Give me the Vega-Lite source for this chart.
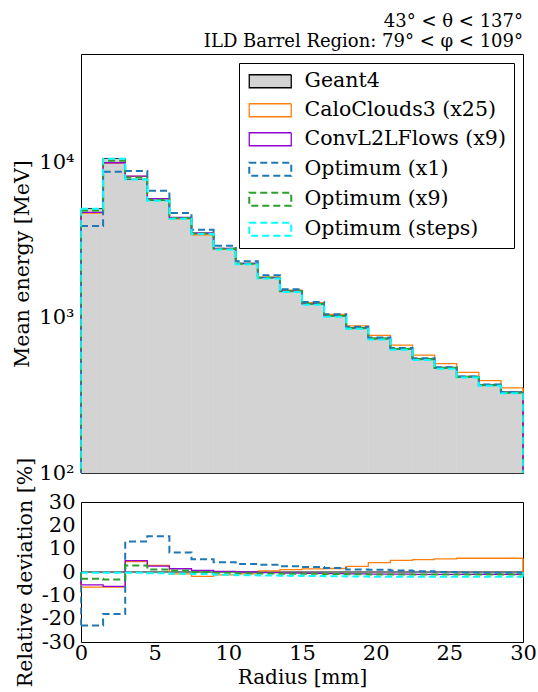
{
  "$schema": "https://vega.github.io/schema/vega-lite/v6.json",
  "padding": {"left": 12, "top": 12, "right": 5, "bottom": 0},
  "config": {
    "font": "DejaVu Serif",
    "view": {"stroke": "black", "strokeWidth": 1},
    "axis": {
      "domain": false, "grid": false, "tickColor": "black", "tickSize": 0, "tickWidth": 1,
      "labelFont": "DejaVu Serif", "labelFontSize": 21, "labelColor": "black", "labelFlush": false, "labelOverlap": false,
      "titleFont": "DejaVu Serif", "titleFontSize": 20.5, "titleFontWeight": "normal", "titleColor": "black"
    },
    "legend": {
      "title": null, "orient": "top-right", "offset": 9,
      "strokeColor": "black", "fillColor": "white", "padding": 8, "cornerRadius": 0,
      "symbolType": "M-3,-0.93H3V0.93H-3Z", "symbolSize": 196, "symbolOffset": 13, "labelOffset": 24,
      "labelFont": "DejaVu Serif", "labelFontSize": 20.5, "labelColor": "black", "labelLimit": 0,
      "rowPadding": 8, "symbolStrokeWidth": 1.5
    }
  },
  "datasets": {
    "h": [
      {"s":"Geant4","r0":0,"r1":1.5,"e":5050,"d":0},
      {"s":"Geant4","r0":1.5,"r1":3,"e":10620,"d":0},
      {"s":"Geant4","r0":3,"r1":4.5,"e":7800,"d":0},
      {"s":"Geant4","r0":4.5,"r1":6,"e":5700,"d":0},
      {"s":"Geant4","r0":6,"r1":7.5,"e":4370,"d":0},
      {"s":"Geant4","r0":7.5,"r1":9,"e":3490,"d":0},
      {"s":"Geant4","r0":9,"r1":10.5,"e":2790,"d":0},
      {"s":"Geant4","r0":10.5,"r1":12,"e":2240,"d":0},
      {"s":"Geant4","r0":12,"r1":13.5,"e":1820,"d":0},
      {"s":"Geant4","r0":13.5,"r1":15,"e":1490,"d":0},
      {"s":"Geant4","r0":15,"r1":16.5,"e":1235,"d":0},
      {"s":"Geant4","r0":16.5,"r1":18,"e":1035,"d":0},
      {"s":"Geant4","r0":18,"r1":19.5,"e":865,"d":0},
      {"s":"Geant4","r0":19.5,"r1":21,"e":740,"d":0},
      {"s":"Geant4","r0":21,"r1":22.5,"e":635,"d":0},
      {"s":"Geant4","r0":22.5,"r1":24,"e":546,"d":0},
      {"s":"Geant4","r0":24,"r1":25.5,"e":480,"d":0},
      {"s":"Geant4","r0":25.5,"r1":27,"e":420,"d":0},
      {"s":"Geant4","r0":27,"r1":28.5,"e":372,"d":0},
      {"s":"Geant4","r0":28.5,"r1":30,"e":333,"d":0},

      {"s":"CaloClouds3 (x25)","r0":0,"r1":1.5,"e":4722,"d":-6.5},
      {"s":"CaloClouds3 (x25)","r0":1.5,"r1":3,"e":9930,"d":-6.5},
      {"s":"CaloClouds3 (x25)","r0":3,"r1":4.5,"e":8151,"d":4.5},
      {"s":"CaloClouds3 (x25)","r0":4.5,"r1":6,"e":5860,"d":2.8},
      {"s":"CaloClouds3 (x25)","r0":6,"r1":7.5,"e":4335,"d":-0.8},
      {"s":"CaloClouds3 (x25)","r0":7.5,"r1":9,"e":3424,"d":-1.9},
      {"s":"CaloClouds3 (x25)","r0":9,"r1":10.5,"e":2757,"d":-1.2},
      {"s":"CaloClouds3 (x25)","r0":10.5,"r1":12,"e":2222,"d":-0.8},
      {"s":"CaloClouds3 (x25)","r0":12,"r1":13.5,"e":1829,"d":0.5},
      {"s":"CaloClouds3 (x25)","r0":13.5,"r1":15,"e":1505,"d":1.0},
      {"s":"CaloClouds3 (x25)","r0":15,"r1":16.5,"e":1251,"d":1.3},
      {"s":"CaloClouds3 (x25)","r0":16.5,"r1":18,"e":1051,"d":1.5},
      {"s":"CaloClouds3 (x25)","r0":18,"r1":19.5,"e":886,"d":2.4},
      {"s":"CaloClouds3 (x25)","r0":19.5,"r1":21,"e":770,"d":4.0},
      {"s":"CaloClouds3 (x25)","r0":21,"r1":22.5,"e":667,"d":5.0},
      {"s":"CaloClouds3 (x25)","r0":22.5,"r1":24,"e":575,"d":5.3},
      {"s":"CaloClouds3 (x25)","r0":24,"r1":25.5,"e":507,"d":5.6},
      {"s":"CaloClouds3 (x25)","r0":25.5,"r1":27,"e":445,"d":5.9},
      {"s":"CaloClouds3 (x25)","r0":27,"r1":28.5,"e":394,"d":5.9},
      {"s":"CaloClouds3 (x25)","r0":28.5,"r1":30,"e":353,"d":5.9},

      {"s":"ConvL2LFlows (x9)","r0":0,"r1":1.5,"e":4772,"d":-5.5},
      {"s":"ConvL2LFlows (x9)","r0":1.5,"r1":3,"e":9962,"d":-6.2},
      {"s":"ConvL2LFlows (x9)","r0":3,"r1":4.5,"e":8182,"d":4.9},
      {"s":"ConvL2LFlows (x9)","r0":4.5,"r1":6,"e":5843,"d":2.5},
      {"s":"ConvL2LFlows (x9)","r0":6,"r1":7.5,"e":4431,"d":1.4},
      {"s":"ConvL2LFlows (x9)","r0":7.5,"r1":9,"e":3514,"d":0.7},
      {"s":"ConvL2LFlows (x9)","r0":9,"r1":10.5,"e":2798,"d":0.3},
      {"s":"ConvL2LFlows (x9)","r0":10.5,"r1":12,"e":2240,"d":0.0},
      {"s":"ConvL2LFlows (x9)","r0":12,"r1":13.5,"e":1815,"d":-0.3},
      {"s":"ConvL2LFlows (x9)","r0":13.5,"r1":15,"e":1483,"d":-0.5},
      {"s":"ConvL2LFlows (x9)","r0":15,"r1":16.5,"e":1228,"d":-0.6},
      {"s":"ConvL2LFlows (x9)","r0":16.5,"r1":18,"e":1028,"d":-0.7},
      {"s":"ConvL2LFlows (x9)","r0":18,"r1":19.5,"e":858,"d":-0.8},
      {"s":"ConvL2LFlows (x9)","r0":19.5,"r1":21,"e":733,"d":-0.9},
      {"s":"ConvL2LFlows (x9)","r0":21,"r1":22.5,"e":629,"d":-0.9},
      {"s":"ConvL2LFlows (x9)","r0":22.5,"r1":24,"e":541,"d":-1.0},
      {"s":"ConvL2LFlows (x9)","r0":24,"r1":25.5,"e":475,"d":-1.0},
      {"s":"ConvL2LFlows (x9)","r0":25.5,"r1":27,"e":416,"d":-1.0},
      {"s":"ConvL2LFlows (x9)","r0":27,"r1":28.5,"e":368,"d":-1.0},
      {"s":"ConvL2LFlows (x9)","r0":28.5,"r1":30,"e":330,"d":-1.0},

      {"s":"Optimum (x1)","r0":0,"r1":1.5,"e":3894,"d":-22.9},
      {"s":"Optimum (x1)","r0":1.5,"r1":3,"e":8708,"d":-18.0},
      {"s":"Optimum (x1)","r0":3,"r1":4.5,"e":8822,"d":13.1},
      {"s":"Optimum (x1)","r0":4.5,"r1":6,"e":6572,"d":15.3},
      {"s":"Optimum (x1)","r0":6,"r1":7.5,"e":4737,"d":8.4},
      {"s":"Optimum (x1)","r0":7.5,"r1":9,"e":3682,"d":5.5},
      {"s":"Optimum (x1)","r0":9,"r1":10.5,"e":2907,"d":4.2},
      {"s":"Optimum (x1)","r0":10.5,"r1":12,"e":2316,"d":3.4},
      {"s":"Optimum (x1)","r0":12,"r1":13.5,"e":1876,"d":3.1},
      {"s":"Optimum (x1)","r0":13.5,"r1":15,"e":1527,"d":2.5},
      {"s":"Optimum (x1)","r0":15,"r1":16.5,"e":1261,"d":2.1},
      {"s":"Optimum (x1)","r0":16.5,"r1":18,"e":1053,"d":1.7},
      {"s":"Optimum (x1)","r0":18,"r1":19.5,"e":875,"d":1.1},
      {"s":"Optimum (x1)","r0":19.5,"r1":21,"e":747,"d":1.0},
      {"s":"Optimum (x1)","r0":21,"r1":22.5,"e":639,"d":0.6},
      {"s":"Optimum (x1)","r0":22.5,"r1":24,"e":548,"d":0.3},
      {"s":"Optimum (x1)","r0":24,"r1":25.5,"e":480,"d":0.0},
      {"s":"Optimum (x1)","r0":25.5,"r1":27,"e":419,"d":-0.2},
      {"s":"Optimum (x1)","r0":27,"r1":28.5,"e":371,"d":-0.3},
      {"s":"Optimum (x1)","r0":28.5,"r1":30,"e":332,"d":-0.3},

      {"s":"Optimum (x9)","r0":0,"r1":1.5,"e":4904,"d":-2.9},
      {"s":"Optimum (x9)","r0":1.5,"r1":3,"e":10280,"d":-3.2},
      {"s":"Optimum (x9)","r0":3,"r1":4.5,"e":8018,"d":2.8},
      {"s":"Optimum (x9)","r0":4.5,"r1":6,"e":5763,"d":1.1},
      {"s":"Optimum (x9)","r0":6,"r1":7.5,"e":4396,"d":0.6},
      {"s":"Optimum (x9)","r0":7.5,"r1":9,"e":3490,"d":0.0},
      {"s":"Optimum (x9)","r0":9,"r1":10.5,"e":2782,"d":-0.3},
      {"s":"Optimum (x9)","r0":10.5,"r1":12,"e":2229,"d":-0.5},
      {"s":"Optimum (x9)","r0":12,"r1":13.5,"e":1809,"d":-0.6},
      {"s":"Optimum (x9)","r0":13.5,"r1":15,"e":1480,"d":-0.7},
      {"s":"Optimum (x9)","r0":15,"r1":16.5,"e":1225,"d":-0.8},
      {"s":"Optimum (x9)","r0":16.5,"r1":18,"e":1026,"d":-0.9},
      {"s":"Optimum (x9)","r0":18,"r1":19.5,"e":856,"d":-1.0},
      {"s":"Optimum (x9)","r0":19.5,"r1":21,"e":732,"d":-1.1},
      {"s":"Optimum (x9)","r0":21,"r1":22.5,"e":628,"d":-1.1},
      {"s":"Optimum (x9)","r0":22.5,"r1":24,"e":540,"d":-1.1},
      {"s":"Optimum (x9)","r0":24,"r1":25.5,"e":475,"d":-1.1},
      {"s":"Optimum (x9)","r0":25.5,"r1":27,"e":415,"d":-1.1},
      {"s":"Optimum (x9)","r0":27,"r1":28.5,"e":368,"d":-1.1},
      {"s":"Optimum (x9)","r0":28.5,"r1":30,"e":329,"d":-1.1},

      {"s":"Optimum (steps)","r0":0,"r1":1.5,"e":5035,"d":-0.3},
      {"s":"Optimum (steps)","r0":1.5,"r1":3,"e":10588,"d":-0.3},
      {"s":"Optimum (steps)","r0":3,"r1":4.5,"e":7777,"d":-0.3},
      {"s":"Optimum (steps)","r0":4.5,"r1":6,"e":5672,"d":-0.5},
      {"s":"Optimum (steps)","r0":6,"r1":7.5,"e":4339,"d":-0.7},
      {"s":"Optimum (steps)","r0":7.5,"r1":9,"e":3459,"d":-0.9},
      {"s":"Optimum (steps)","r0":9,"r1":10.5,"e":2757,"d":-1.2},
      {"s":"Optimum (steps)","r0":10.5,"r1":12,"e":2209,"d":-1.4},
      {"s":"Optimum (steps)","r0":12,"r1":13.5,"e":1793,"d":-1.5},
      {"s":"Optimum (steps)","r0":13.5,"r1":15,"e":1466,"d":-1.6},
      {"s":"Optimum (steps)","r0":15,"r1":16.5,"e":1214,"d":-1.7},
      {"s":"Optimum (steps)","r0":16.5,"r1":18,"e":1016,"d":-1.8},
      {"s":"Optimum (steps)","r0":18,"r1":19.5,"e":849,"d":-1.9},
      {"s":"Optimum (steps)","r0":19.5,"r1":21,"e":725,"d":-2.0},
      {"s":"Optimum (steps)","r0":21,"r1":22.5,"e":622,"d":-2.0},
      {"s":"Optimum (steps)","r0":22.5,"r1":24,"e":535,"d":-2.0},
      {"s":"Optimum (steps)","r0":24,"r1":25.5,"e":470,"d":-2.0},
      {"s":"Optimum (steps)","r0":25.5,"r1":27,"e":412,"d":-2.0},
      {"s":"Optimum (steps)","r0":27,"r1":28.5,"e":365,"d":-2.0},
      {"s":"Optimum (steps)","r0":28.5,"r1":30,"e":326,"d":-2.0}
    ]
  },
  "bounds": "flush",
  "spacing": 29,
  "resolve": {"legend": {"color": "independent", "strokeDash": "independent"}},
  "vconcat": [
    {
      "width": 442,
      "height": 419,
      "title": {
        "text": ["43° < θ < 137°", "ILD Barrel Region: 79° < φ < 109°"],
        "anchor": "end", "frame": "group", "offset": -8,
        "font": "DejaVu Serif", "fontSize": 18, "lineHeight": 20, "fontWeight": "normal", "color": "black"
      },
      "data": {"name": "h"},
      "layer": [
        {
          "transform": [{"filter": "datum.s === 'Geant4'"}],
          "mark": {"type": "rect", "fill": "#d3d3d3", "stroke": "#d3d3d3", "strokeWidth": 0.5},
          "encoding": {
            "x": {
              "field": "r0", "type": "quantitative",
              "scale": {"domain": [0, 30], "nice": false, "zero": false},
              "axis": {"orient": "bottom", "values": [5, 10, 15, 20, 25], "labels": false, "title": null,
                       "encode": {"ticks": {"update": {"y2": {"value": -7}}}}}
            },
            "x2": {"field": "r1"},
            "y": {
              "field": "e", "type": "quantitative",
              "scale": {"type": "log", "domain": [100, 50000], "nice": false},
              "axis": {
                "orient": "left", "title": "Mean energy [MeV]", "titlePadding": 6, "labelPadding": 7,
                "values": [100,200,300,400,500,600,700,800,900,1000,2000,3000,4000,5000,6000,7000,8000,9000,10000,20000,30000,40000,50000],
                "labelExpr": "datum.value === 100 ? '10²' : datum.value === 1000 ? '10³' : datum.value === 10000 ? '10⁴' : ''",
                "encode": {"ticks": {"update": {"x2": {"signal": "indexof([100, 1000, 10000], datum.value) >= 0 ? 7 : 3.5"}}}}
              }
            },
            "y2": {"datum": 100}
          }
        },
        {
          "transform": [{"filter": "datum.s === 'Geant4'"}, {"fold": ["r0", "r1"], "as": ["edge", "r"]}],
          "mark": {"type": "line", "strokeWidth": 0.8},
          "encoding": {
            "x": {
              "field": "r", "type": "quantitative",
              "axis": {"orient": "top", "values": [5, 10, 15, 20, 25], "labels": false, "title": null,
                       "encode": {"ticks": {"update": {"y2": {"value": 7}}}}}
            },
            "y": {
              "field": "e", "type": "quantitative",
              "axis": {
                "orient": "right", "labels": false, "title": null,
                "values": [100,200,300,400,500,600,700,800,900,1000,2000,3000,4000,5000,6000,7000,8000,9000,10000,20000,30000,40000,50000],
                "encode": {"ticks": {"update": {"x2": {"signal": "indexof([100, 1000, 10000], datum.value) >= 0 ? -7 : -3.5"}}}}
              }
            },
            "color": {
              "field": "s", "type": "nominal",
              "scale": {
                "domain": ["Geant4", "CaloClouds3 (x25)", "ConvL2LFlows (x9)", "Optimum (x1)", "Optimum (x9)", "Optimum (steps)"],
                "range": ["#000000", "#ff7f0e", "#9400d3", "#1f77b4", "#2ca02c", "#00ffff"]
              },
              "legend": {
                "encode": {"symbols": {"update": {
                  "fill": {"signal": "datum.value === 'Geant4' ? '#d3d3d3' : 'transparent'"},
                  "strokeWidth": {"signal": "indexof(['Optimum (x1)', 'Optimum (x9)', 'Optimum (steps)'], datum.value) >= 0 ? 2 : 1.3"},
                  "opacity": {"value": 1}
                }}}
              }
            },
            "strokeDash": {
              "field": "s", "type": "nominal",
              "scale": {
                "domain": ["Geant4", "CaloClouds3 (x25)", "ConvL2LFlows (x9)", "Optimum (x1)", "Optimum (x9)", "Optimum (steps)"],
                "range": [[1, 0], [1, 0], [1, 0], [7, 4], [7, 4], [7, 4]]
              }
            },
            "order": [{"field": "r", "type": "quantitative"}, {"field": "edge", "type": "ordinal", "sort": "descending"}]
          }
        },
        {
          "transform": [{"filter": "datum.s === 'CaloClouds3 (x25)' || datum.s === 'ConvL2LFlows (x9)'"}, {"fold": ["r0", "r1"], "as": ["edge", "r"]}],
          "mark": {"type": "line", "strokeWidth": 1.3},
          "encoding": {
            "x": {"field": "r", "type": "quantitative", "axis": null},
            "y": {"field": "e", "type": "quantitative", "axis": null},
            "color": {"field": "s", "type": "nominal"},
            "strokeDash": {"field": "s", "type": "nominal"},
            "order": [{"field": "r", "type": "quantitative"}, {"field": "edge", "type": "ordinal", "sort": "descending"}]
          }
        },
        {
          "transform": [{"filter": "indexof(['Optimum (x1)', 'Optimum (x9)', 'Optimum (steps)'], datum.s) >= 0"}, {"fold": ["r0", "r1"], "as": ["edge", "r"]}],
          "mark": {"type": "line", "strokeWidth": 2},
          "encoding": {
            "x": {"field": "r", "type": "quantitative", "axis": null},
            "y": {"field": "e", "type": "quantitative", "axis": null},
            "color": {"field": "s", "type": "nominal"},
            "strokeDash": {"field": "s", "type": "nominal"},
            "order": [{"field": "r", "type": "quantitative"}, {"field": "edge", "type": "ordinal", "sort": "descending"}]
          }
        },
        {
          "transform": [{"filter": "datum.s !== 'Geant4'"}, {"fold": ["r0", "r1"], "as": ["edge", "r"]}, {"filter": "datum.r === 0 || datum.r === 30"}],
          "mark": {"type": "rule", "strokeWidth": 1.6},
          "encoding": {
            "x": {"field": "r", "type": "quantitative", "axis": null},
            "y": {"field": "e", "type": "quantitative", "axis": null},
            "y2": {"datum": 100},
            "color": {"field": "s", "type": "nominal"},
            "strokeDash": {"field": "s", "type": "nominal"}
          }
        }
      ],
      "resolve": {"axis": {"x": "independent", "y": "independent"}}
    },
    {
      "width": 442,
      "height": 140,
      "data": {"name": "h"},
      "layer": [
        {
          "transform": [{"filter": "datum.s === 'Geant4'"}, {"fold": ["r0", "r1"], "as": ["edge", "r"]}],
          "mark": {"type": "line", "strokeWidth": 1},
          "encoding": {
            "x": {
              "field": "r", "type": "quantitative",
              "scale": {"domain": [0, 30], "nice": false, "zero": false},
              "axis": {"orient": "bottom", "values": [0, 5, 10, 15, 20, 25, 30], "title": "Radius [mm]",
                       "labelPadding": 0, "titlePadding": 4, "titleFontSize": 20,
                       "encode": {"ticks": {"update": {"y2": {"value": -7}}}}}
            },
            "y": {
              "field": "d", "type": "quantitative",
              "scale": {"domain": [-30, 30], "nice": false, "zero": false},
              "axis": {"orient": "left", "values": [-30, -20, -10, 0, 10, 20, 30], "title": "Relative deviation [%]",
                       "labelExpr": "'' + datum.value", "labelPadding": 6, "titlePadding": 6,
                       "encode": {"ticks": {"update": {"x2": {"value": 7}}}}}
            },
            "color": {"field": "s", "type": "nominal", "legend": null},
            "strokeDash": {"field": "s", "type": "nominal", "legend": null},
            "order": [{"field": "r", "type": "quantitative"}, {"field": "edge", "type": "ordinal", "sort": "descending"}]
          }
        },
        {
          "transform": [{"filter": "datum.s === 'CaloClouds3 (x25)' || datum.s === 'ConvL2LFlows (x9)'"}, {"fold": ["r0", "r1"], "as": ["edge", "r"]}],
          "mark": {"type": "line", "strokeWidth": 1.3},
          "encoding": {
            "x": {"field": "r", "type": "quantitative",
                  "axis": {"orient": "top", "values": [5, 10, 15, 20, 25], "labels": false, "title": null,
                           "encode": {"ticks": {"update": {"y2": {"value": 7}}}}}},
            "y": {"field": "d", "type": "quantitative",
                  "axis": {"orient": "right", "values": [-20, -10, 0, 10, 20], "labels": false, "title": null,
                           "encode": {"ticks": {"update": {"x2": {"value": -7}}}}}},
            "color": {"field": "s", "type": "nominal", "legend": null},
            "strokeDash": {"field": "s", "type": "nominal", "legend": null},
            "order": [{"field": "r", "type": "quantitative"}, {"field": "edge", "type": "ordinal", "sort": "descending"}]
          }
        },
        {
          "transform": [{"filter": "indexof(['Optimum (x1)', 'Optimum (x9)', 'Optimum (steps)'], datum.s) >= 0"}, {"fold": ["r0", "r1"], "as": ["edge", "r"]}],
          "mark": {"type": "line", "strokeWidth": 2},
          "encoding": {
            "x": {"field": "r", "type": "quantitative", "axis": null},
            "y": {"field": "d", "type": "quantitative", "axis": null},
            "color": {"field": "s", "type": "nominal", "legend": null},
            "strokeDash": {"field": "s", "type": "nominal", "legend": null},
            "order": [{"field": "r", "type": "quantitative"}, {"field": "edge", "type": "ordinal", "sort": "descending"}]
          }
        },
        {
          "transform": [{"filter": "datum.s !== 'Geant4'"}, {"fold": ["r0", "r1"], "as": ["edge", "r"]}, {"filter": "datum.r === 0 || datum.r === 30"}],
          "mark": {"type": "rule", "strokeWidth": 1.6},
          "encoding": {
            "x": {"field": "r", "type": "quantitative", "axis": null},
            "y": {"field": "d", "type": "quantitative", "axis": null},
            "y2": {"datum": 0},
            "color": {"field": "s", "type": "nominal", "legend": null},
            "strokeDash": {"field": "s", "type": "nominal", "legend": null}
          }
        }
      ],
      "resolve": {"axis": {"x": "independent", "y": "independent"}}
    }
  ]
}
